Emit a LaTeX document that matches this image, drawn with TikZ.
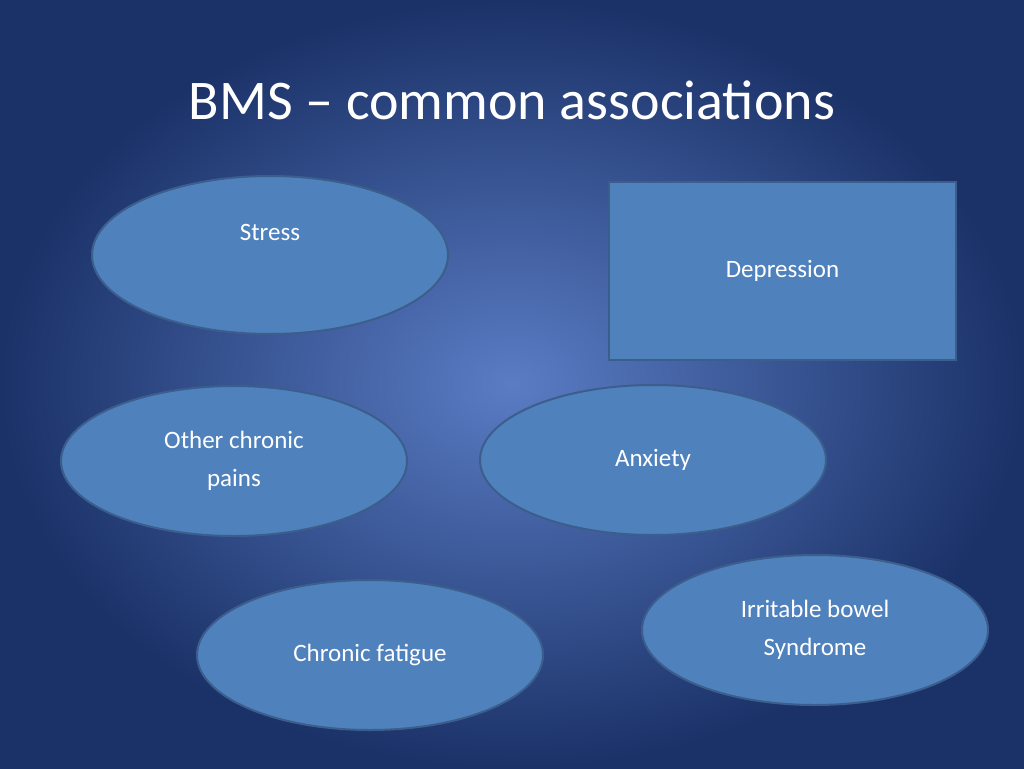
\documentclass[tikz,border=0pt]{standalone}
\usepackage{fontspec}
\setmainfont{Carlito}
\usetikzlibrary{shapes.geometric}
\definecolor{bgin}{HTML}{5A7CC4}
\definecolor{bgout}{HTML}{1B3268}
\definecolor{boxfill}{HTML}{4F81BD}
\definecolor{boxline}{HTML}{3B5E8C}
\begin{document}
\begin{tikzpicture}[x=1pt,y=-1pt,
  bubble/.style={ellipse,draw=boxline,fill=boxfill,line width=2pt,text=white,
    font=\fontsize{25}{38}\selectfont,align=center,inner sep=0pt},
  title/.style={text=white,font=\fontsize{56}{60}\selectfont}]
\useasboundingbox (0,0) rectangle (1024,768);
\shade[inner color=bgin,outer color=bgout] (0,0) rectangle (1024,768);
\node[title] (t) at (512,100) {BMS – common associations};
\node[bubble,minimum width=356pt,minimum height=158pt] (stress) at (270,255) {Stress\\[8pt]};
\node[draw=boxline,fill=boxfill,line width=2pt,text=white,font=\fontsize{25}{38}\selectfont,
  minimum width=347pt,minimum height=178pt] (dep) at (782.5,271) {Depression};
\node[bubble,minimum width=346pt,minimum height=150pt] (ocp) at (234,461) {Other chronic\\pains};
\node[bubble,minimum width=346pt,minimum height=150pt] (anx) at (653,460) {Anxiety};
\node[bubble,minimum width=346pt,minimum height=150pt] (cf) at (370,655) {Chronic fatigue};
\node[bubble,minimum width=346pt,minimum height=150pt] (ibs) at (815,630) {Irritable bowel\\Syndrome};
\end{tikzpicture}
\end{document}
